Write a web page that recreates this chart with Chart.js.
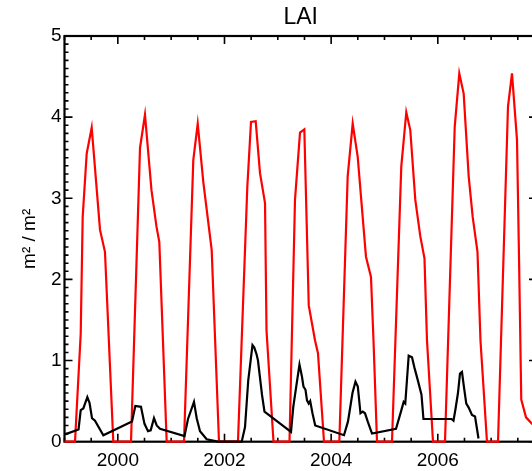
<!DOCTYPE html>
<html>
<head>
<meta charset="utf-8">
<script src="https://cdn.jsdelivr.net/npm/chart.js@4/dist/chart.umd.min.js"></script>
<style>
  html, body { margin: 0; padding: 0; background: #fff; overflow: hidden; width: 532px; height: 471px; }
  #wrap { position: absolute; left: 0; top: 0; width: 560px; height: 471px; }
  canvas { display: block; }
</style>
</head>
<body>
<div id="wrap"><canvas id="lai" width="560" height="471"></canvas></div>
<script>
// Axis extents and labelled ticks
const yearRange = [1999.0, 2007.86];
const laiRange = [0, 5];
const yearLabels = [2000, 2002, 2004, 2006];
const laiLabels = [0, 1, 2, 3, 4, 5];

// Red series: seasonal LAI (decimal year, m2/m2)
const redYears = [
  1999.000, 1999.197, 1999.304, 1999.341, 1999.416, 1999.510, 1999.666, 1999.759, 1999.915,
  2000.247, 2000.416, 2000.509, 2000.631, 2000.725, 2000.778, 2000.916,
  2001.241, 2001.415, 2001.498, 2001.603, 2001.760, 2001.897,
  2002.253, 2002.428, 2002.497, 2002.585, 2002.666, 2002.760, 2002.788, 2002.919,
  2003.219, 2003.322, 2003.416, 2003.497, 2003.580, 2003.697, 2003.753, 2003.866,
  2004.153, 2004.310, 2004.404, 2004.498, 2004.653, 2004.747, 2004.794, 2004.860,
  2005.141, 2005.315, 2005.409, 2005.484, 2005.578, 2005.672, 2005.750, 2005.797, 2005.910,
  2006.135, 2006.317, 2006.403, 2006.485, 2006.579, 2006.654, 2006.744, 2006.800, 2006.922,
  2007.129, 2007.316, 2007.391, 2007.485, 2007.522, 2007.565, 2007.654, 2007.766, 2007.880
];
const redLai = [
  0, 0, 1.33, 2.77, 3.55, 3.87, 2.61, 2.34, 0,
  0, 3.62, 4.03, 3.10, 2.65, 2.46, 0,
  0, 3.47, 3.92, 3.20, 2.36, 0,
  0, 3.14, 3.94, 3.95, 3.31, 2.94, 1.37, 0,
  0, 2.98, 3.81, 3.85, 1.68, 1.25, 1.09, 0,
  0, 3.27, 3.92, 3.51, 2.28, 2.03, 1.25, 0,
  0, 3.39, 4.06, 3.84, 2.98, 2.53, 2.26, 1.25, 0,
  0, 3.88, 4.54, 4.29, 3.27, 2.77, 2.34, 1.25, 0,
  0, 4.13, 4.54, 3.72, 2.30, 0.52, 0.30, 0.22, 0.20
];

// Black series: low LAI (decimal year, m2/m2)
const blackYears = [
  1999.010, 1999.263, 1999.304, 1999.353, 1999.428, 1999.469, 1999.516, 1999.572, 1999.728,
  2000.266, 2000.328, 2000.434, 2000.500, 2000.566, 2000.616, 2000.678, 2000.729, 2000.791,
  2001.250, 2001.316, 2001.428, 2001.479, 2001.541, 2001.666, 2001.878,
  2002.323, 2002.385, 2002.446, 2002.525, 2002.559, 2002.600, 2002.628, 2002.703, 2002.750,
  2003.247, 2003.290, 2003.350, 2003.406, 2003.453, 2003.481, 2003.519, 2003.547, 2003.579, 2003.607, 2003.650, 2003.701,
  2004.241, 2004.316, 2004.400, 2004.456, 2004.500, 2004.550, 2004.592, 2004.635, 2004.685, 2004.766,
  2005.216, 2005.313, 2005.360, 2005.390, 2005.454, 2005.516, 2005.563, 2005.628, 2005.694, 2005.731,
  2006.256, 2006.294, 2006.331, 2006.378, 2006.416, 2006.453, 2006.491, 2006.534, 2006.579, 2006.641, 2006.698, 2006.763
];
const blackLai = [
  0.09, 0.15, 0.39, 0.41, 0.55, 0.48, 0.29, 0.26, 0.08,
  0.25, 0.44, 0.43, 0.22, 0.13, 0.14, 0.29, 0.20, 0.16,
  0.07, 0.28, 0.49, 0.29, 0.13, 0.03, 0.00,
  0.00, 0.18, 0.76, 1.19, 1.16, 1.08, 1.00, 0.58, 0.37,
  0.12, 0.43, 0.70, 0.95, 0.80, 0.68, 0.64, 0.51, 0.47, 0.50, 0.35, 0.20,
  0.08, 0.25, 0.60, 0.74, 0.68, 0.35, 0.37, 0.35, 0.25, 0.10,
  0.16, 0.38, 0.49, 0.47, 1.06, 1.04, 0.91, 0.75, 0.58, 0.28,
  0.28, 0.26, 0.40, 0.60, 0.84, 0.86, 0.67, 0.47, 0.42, 0.33, 0.31, 0.04
];

const toPoints = (xs, ys) => xs.map((x, i) => ({ x: x, y: ys[i] }));
const FONT = "'Liberation Sans', Arial, Helvetica, sans-serif";

// Box around the plot with inward major/minor tick marks on all four sides
const frameTicks = {
  id: 'frameTicks',
  beforeDatasetsDraw(chart) {
    const { ctx, chartArea: a, scales: { x, y } } = chart;
    ctx.save();
    ctx.strokeStyle = '#000';
    ctx.lineWidth = 1.6;
    ctx.beginPath();
    for (let k = Math.ceil(x.min * 2); k / 2 <= x.max; k++) {
      const v = k / 2;
      const px = x.getPixelForValue(v);
      const len = yearLabels.includes(v) ? 8 : 4;
      ctx.moveTo(px, a.bottom); ctx.lineTo(px, a.bottom - len);
      ctx.moveTo(px, a.top); ctx.lineTo(px, a.top + len);
    }
    for (let k = 0; k <= 50; k++) {
      const py = y.getPixelForValue(k / 10);
      const len = k % 10 === 0 ? 8 : 4;
      ctx.moveTo(a.left, py); ctx.lineTo(a.left + len, py);
      ctx.moveTo(a.right, py); ctx.lineTo(a.right - len, py);
    }
    ctx.stroke();
    ctx.lineWidth = 2.2;
    ctx.strokeRect(a.left, a.top, a.right - a.left, a.bottom - a.top);
    ctx.restore();
  }
};

new Chart(document.getElementById('lai'), {
  type: 'line',
  data: {
    datasets: [
      {
        label: 'black',
        data: toPoints(blackYears, blackLai),
        borderColor: '#000000',
        borderWidth: 2.2,
        pointRadius: 0,
        tension: 0,
        clip: { left: 2, top: 2, right: 2, bottom: 3 }
      },
      {
        label: 'red',
        data: toPoints(redYears, redLai),
        borderColor: '#ff0000',
        borderWidth: 2.2,
        pointRadius: 0,
        tension: 0,
        clip: { left: 2, top: 2, right: 2, bottom: 3 }
      }
    ]
  },
  options: {
    responsive: false,
    animation: false,
    events: [],
    layout: { padding: { left: 0, right: 23, top: 0, bottom: 0 } },
    plugins: {
      legend: { display: false },
      tooltip: { enabled: false },
      title: {
        display: true,
        text: 'LAI',
        fullSize: false,
        color: '#000',
        font: { family: FONT, size: 23, weight: 'normal' },
        padding: { top: 4, bottom: 4.4 }
      }
    },
    scales: {
      x: {
        type: 'linear',
        min: yearRange[0],
        max: yearRange[1],
        grid: { display: false, drawTicks: false },
        border: { display: false },
        afterBuildTicks: (s) => { s.ticks = yearLabels.map(v => ({ value: v })); },
        afterFit: (s) => { s.height = 29.3; },
        ticks: {
          color: '#000',
          padding: 8,
          maxRotation: 0,
          font: { family: FONT, size: 19 },
          callback: (v) => String(v)
        }
      },
      y: {
        type: 'linear',
        min: laiRange[0],
        max: laiRange[1],
        grid: { display: false, drawTicks: false },
        border: { display: false },
        afterBuildTicks: (s) => { s.ticks = laiLabels.map(v => ({ value: v })); },
        afterFit: (s) => { s.width = 64.5; },
        title: {
          display: true,
          text: 'm² / m²',
          color: '#000',
          font: { family: FONT, size: 19 },
          padding: { top: 18, bottom: 0 }
        },
        ticks: {
          color: '#000',
          padding: 3,
          font: { family: FONT, size: 19 },
          callback: (v) => String(v)
        }
      }
    }
  },
  plugins: [frameTicks]
});
</script>
</body>
</html>
